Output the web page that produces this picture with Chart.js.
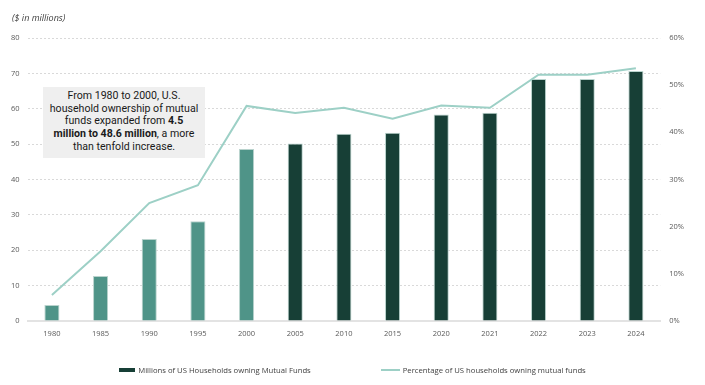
<!DOCTYPE html>
<html>
<head>
<meta charset="utf-8">
<script src="https://cdn.jsdelivr.net/npm/chart.js@4"></script>
<style>
  body { margin: 0; background: #fff; }
  #wrap { position: relative; width: 705px; height: 385px; }
  #unit { position: absolute; left: 12px; top: 11px; font: italic 9px "Open Sans", sans-serif; color: #404040; }
  #note {
    position: absolute; left: 43px; top: 87px; width: 162px; height: 71px;
    background: #efefef; box-sizing: border-box; padding-top: 3px;
    font: 10.6px/12.7px Roboto, sans-serif; color: #1a1a1a; text-align: center;
  }
  #legend { position: absolute; left: 0; top: 364px; width: 705px; text-align: center;
    font: 7.7px "Open Sans", sans-serif; color: #404040; }
  #legend span { display: inline-block; vertical-align: middle; }
  .sw { height: 4px; margin-right: 3px; }
  .item { margin: 0 35px; }
</style>
</head>
<body>
<div id="wrap">
  <canvas id="myChart" width="705" height="385"></canvas>
  <div id="unit">($ in millions)</div>
  <div id="note">From 1980 to 2000, U.S.<br>household ownership of mutual<br>funds expanded from <b>4.5</b><br><b>million to 48.6 million</b>, a more<br>than tenfold increase.</div>
  <div id="legend"></div>
</div>
<script>
// 數據
const years = ['1980', '1985', '1990', '1995', '2000', '2005', '2010', '2015', '2020', '2021', '2022', '2023', '2024'];
const households = [4.5, 12.7, 23.2, 28.2, 48.6, 50.2, 52.9, 53.2, 58.4, 58.9, 68.4, 68.4, 70.7];
const percentHouseholds = [5.5, 14.8, 25.0, 28.8, 45.6, 44.1, 45.2, 42.9, 45.7, 45.2, 52.2, 52.2, 53.6];
const leftTicks = [0, 10, 20, 30, 40, 50, 60, 70, 80];
const rightTicks = [0, 10, 20, 30, 40, 50, 60];

const lightBar = '#4f9488';
const darkBar = '#173f36';
const lineColor = '#9dd0c6';
// 2000年以前用淺色
const barColors = years.map(y => Number(y) <= 2000 ? lightBar : darkBar);

const tickFont = {family: '"Open Sans", sans-serif', size: 7.5};

const ctx = document.getElementById('myChart');

var chart = new Chart(ctx, {
    type: 'bar',
    data: {
        labels: years,
        datasets: [{
            type: 'line',
            label: 'Percentage of US households owning mutual funds',
            data: percentHouseholds,
            yAxisID: 'y2',
            borderColor: lineColor,
            backgroundColor: lineColor,
            borderWidth: 2,
            pointRadius: 0,
            tension: 0,
            order: 0
        }, {
            label: 'Millions of US Households owning Mutual Funds',
            data: households,
            yAxisID: 'y',
            backgroundColor: barColors,
            borderColor: '#b9d3cd',
            borderWidth: 1,
            barPercentage: 0.62,
            categoryPercentage: 0.5,
            order: 1
        }]
    },
    options: {
        responsive: false,
        animation: false,
        layout: {padding: {left: 3, right: 12, top: 38, bottom: 39}},
        plugins: {
            tooltip: {enabled: false},
            legend: {display: false}
        },
        scales: {
            x: {
                grid: {display: false, drawTicks: false},
                border: {display: true, color: '#e3e3e3', width: 2},
                ticks: {color: '#595959', font: tickFont, padding: 8}
            },
            y: {
                position: 'left',
                min: 0,
                max: 80,
                afterBuildTicks: a => { a.ticks = leftTicks.map(v => ({value: v})); },
                grid: {color: '#d9d9d9', drawTicks: false, lineWidth: 1},
                border: {display: false, dash: [2, 2]},
                ticks: {color: '#595959', font: tickFont, padding: 8}
            },
            y2: {
                position: 'right',
                min: 0,
                max: 60,
                afterBuildTicks: a => { a.ticks = rightTicks.map(v => ({value: v})); },
                grid: {display: false, drawTicks: false},
                border: {display: false},
                ticks: {color: '#595959', font: tickFont, padding: 9, callback: v => v + '%'}
            }
        }
    }
});

// 圖例 (HTML)，顏色跟資料集一樣
const legendItems = [
    {text: chart.data.datasets[1].label, color: darkBar, w: 16, h: 4},
    {text: chart.data.datasets[0].label, color: lineColor, w: 19, h: 2}
];
document.getElementById('legend').innerHTML = legendItems.map(it =>
    '<span class="item"><span class="sw" style="background:' + it.color + ';width:' + it.w + 'px;height:' + it.h + 'px"></span><span>' + it.text + '</span></span>'
).join('');
</script>
</body>
</html>
